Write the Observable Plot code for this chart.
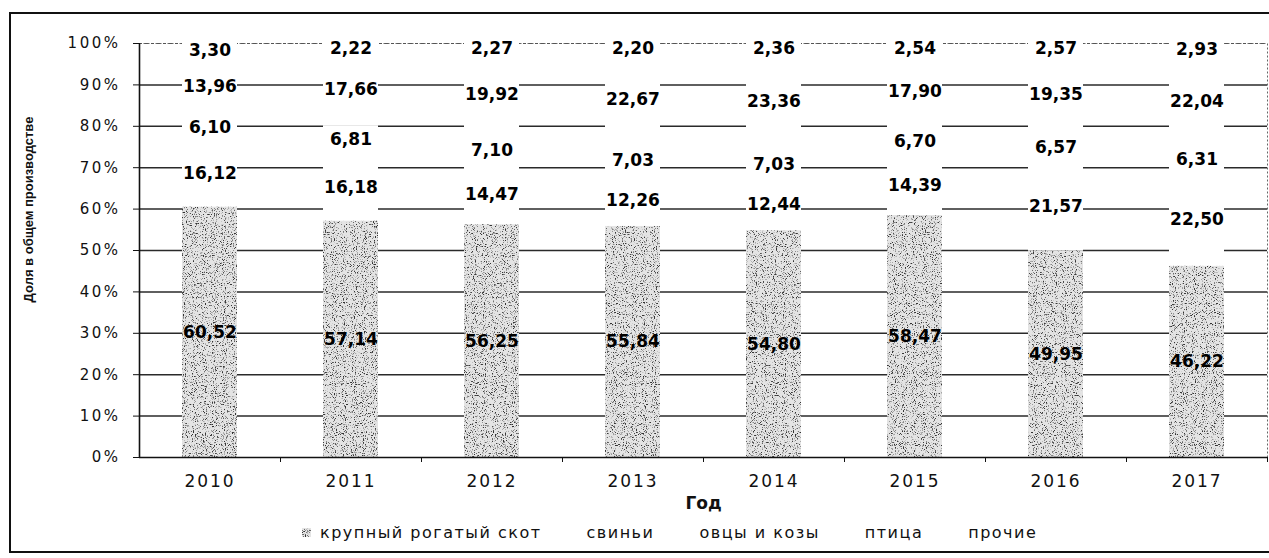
<!DOCTYPE html>
<html><head><meta charset="utf-8">
<script src="https://cdn.jsdelivr.net/npm/d3@7"></script>
<script src="https://cdn.jsdelivr.net/npm/@observablehq/plot@0.6"></script>
<style>
html,body{margin:0;padding:0;background:#fff;}
#wrap{position:relative;width:1269px;height:558px;overflow:hidden;background:#fff;}
#chart{position:absolute;left:0;top:0;}
#frame{position:absolute;left:9px;top:12px;width:1262px;height:541px;border:2px solid #111;box-sizing:border-box;pointer-events:none;}
#legend{position:absolute;left:302px;top:523px;display:flex;align-items:center;font-family:"DejaVu Sans";font-size:16px;letter-spacing:1.5px;color:#111;white-space:nowrap;}
.item{display:flex;align-items:center;margin-right:27px;}
.sw{width:9px;height:9px;margin-right:9px;display:block;}
g[aria-label="y-axis tick label"] text{letter-spacing:2.5px;}
g[aria-label="x-axis tick label"] text{letter-spacing:2px;}
g[aria-label="x-axis label"] text{font-weight:bold;}
</style>
</head><body>
<svg width="0" height="0" style="position:absolute">
  <defs>
    <filter id="grain" x="0" y="0" width="1" height="1" color-interpolation-filters="sRGB">
      <feTurbulence type="fractalNoise" baseFrequency="0.9" numOctaves="2" seed="4" result="n"/>
      <feColorMatrix in="n" type="matrix" values="0 0 0 0 0.2  0 0 0 0 0.2  0 0 0 0 0.2  -5.5 0 0 0 2.45" result="d"/>
      <feMerge><feMergeNode in="SourceGraphic"/><feMergeNode in="d"/></feMerge>
    </filter>
    <pattern id="stip" patternUnits="userSpaceOnUse" width="300" height="440">
      <rect width="300" height="440" fill="#e4e4e4" filter="url(#grain)"/>
    </pattern>
  </defs>
</svg>
<div id="wrap">
  <div id="chart"></div>
  <div id="legend"></div>
  <div id="frame"></div>
</div>
<script>
const years = ["2010","2011","2012","2013","2014","2015","2016","2017"];
const categories = ["крупный рогатый скот","свиньи","овцы и козы","птица","прочие"];
const cattle  = [60.52,57.14,56.25,55.84,54.80,58.47,49.95,46.22];
const pigs    = [16.12,16.18,14.47,12.26,12.44,14.39,21.57,22.50];
const sheep   = [6.10,6.81,7.10,7.03,7.03,6.70,6.57,6.31];
const poultry = [13.96,17.66,19.92,22.67,23.36,17.90,19.35,22.04];
const other   = [3.30,2.22,2.27,2.20,2.36,2.54,2.57,2.93];
const yTicks = [0,0.1,0.2,0.3,0.4,0.5,0.6,0.7,0.8,0.9,1];
const gridTicks = [0.1,0.2,0.3,0.4,0.5,0.6,0.7,0.8,0.9];
const yTitle = "Доля в общем производстве";
const xTitle = "Год";

const series = [cattle, pigs, sheep, poultry, other];
const data = years.flatMap((yr, i) => categories.map((c, j) => ({year: yr, cat: c, value: series[j][i]})));
const fmt = v => v.toFixed(2).replace(".", ",");
const stackOpts = {x: "year", y: "value", z: "cat", offset: "normalize", order: categories};
const half = 70.5;

const plot = Plot.plot({
  width: 1269, height: 515,
  marginLeft: 139, marginRight: 2, marginTop: 43, marginBottom: 58,
  style: {fontFamily: "DejaVu Sans", background: "transparent", color: "#111"},
  x: {domain: years, paddingInner: 0.61, paddingOuter: 0.305, label: null},
  y: {domain: [0, 1], label: null},
  color: {domain: categories, range: ["url(#stip)", "#fff", "#fff", "#fff", "#fff"]},
  marks: [
    Plot.frame({stroke: "#666", strokeDasharray: "2,2"}),
    Plot.gridY(gridTicks, {stroke: "#2a2a2a", strokeOpacity: 1, strokeWidth: 1.5}),
    Plot.ruleY([1], {stroke: "#555", strokeDasharray: "3,3"}),
    Plot.barY(data, Plot.stackY({...stackOpts, fill: "cat"})),
    Plot.ruleY([0], {stroke: "#111", strokeWidth: 1.6}),
    Plot.ruleX([years[0]], {dx: -half, stroke: "#111", strokeWidth: 1.6}),
    Plot.ruleX(years, {dx: half, y1: 0, y2: 0, insetBottom: -5, stroke: "#111"}),
    Plot.axisY(yTicks, {tickFormat: d3.format(".0%"), tickSize: 6, tickPadding: 13, fontSize: 15, label: null, stroke: "#111"}),
    Plot.axisX({tickSize: 0, tickPadding: 17, fontSize: 17, label: xTitle, labelAnchor: "center", labelOffset: 51}),
    Plot.text([yTitle], {frameAnchor: "left", textAnchor: "middle", rotate: -90, dx: -111, dy: -41, fontWeight: "bold", fontSize: 13, fontFamily: "Liberation Sans", fill: "#111"}),
    Plot.text(data, Plot.stackY({...stackOpts, text: d => fmt(d.value), fontWeight: "bold", fontSize: 17, fontFamily: "DejaVu Sans", fill: "#000"}))
  ]
});
document.getElementById("chart").appendChild(plot);

const legend = document.getElementById("legend");
categories.forEach((c, i) => {
  const item = document.createElement("div");
  item.className = "item";
  item.innerHTML = `<svg class="sw" width="9" height="9"><rect width="9" height="9" fill="${i === 0 ? "url(#stip)" : "#fff"}"/></svg><span>${c}</span>`;
  legend.appendChild(item);
});
</script>
</body></html>
